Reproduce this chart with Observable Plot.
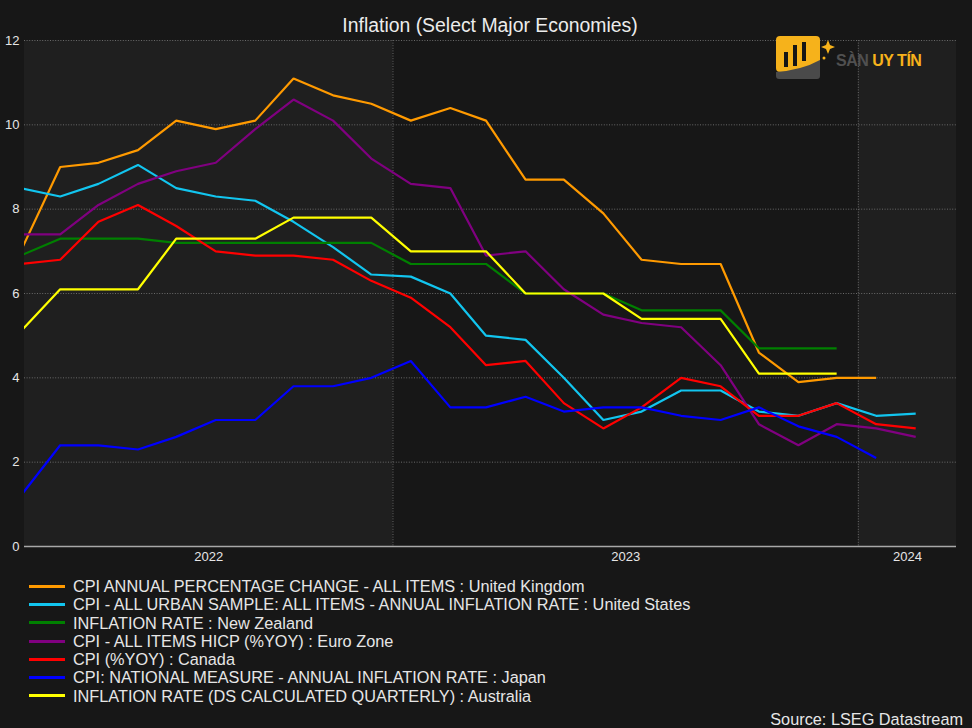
<!DOCTYPE html>
<html>
<head>
<meta charset="utf-8">
<script src="https://cdn.jsdelivr.net/npm/d3@7"></script>
<script src="https://cdn.jsdelivr.net/npm/@observablehq/plot@0.6"></script>
<style>
html,body{margin:0;padding:0;background:#171717;}
#root{position:relative;width:972px;height:728px;overflow:hidden;font-family:"Liberation Sans",Arial,sans-serif;color:#e6e6e6;}
#title{height:30px;line-height:50px;font-size:19.4px;text-align:center;padding:0 16px 0 24px;white-space:nowrap;color:#ececec;}
#chart svg{display:block;}
.row{height:18.3px;line-height:18.3px;font-size:16.3px;display:flex;align-items:center;white-space:nowrap;}
.sw{width:36px;height:3px;margin-left:29px;margin-right:8px;flex:none;}
#source{margin-top:5px;height:18.3px;line-height:18.3px;font-size:16.3px;text-align:right;padding-right:9px;}
#logo{position:absolute;left:772px;top:32px;}
</style>
</head>
<body>
<div id="root">
  <div id="title">Inflation (Select Major Economies)</div>
  <div id="chart"></div>
  <div id="legend"></div>
  <div id="source">Source: LSEG Datastream</div>
  <div id="logo">
    <svg width="160" height="52" viewBox="0 0 160 52">
      <rect x="4" y="4" width="44" height="36" rx="4" fill="#f6b21b"/>
      <path d="M4,40 Q30,38 48,28 L48,44 Q48,47 45,47 L7,47 Q4,47 4,44 Z" fill="#4a4a4a"/>
      <rect x="12" y="20" width="4" height="15" fill="#151515"/>
      <rect x="21" y="13" width="4" height="21" fill="#151515"/>
      <rect x="30" y="10" width="4" height="19" fill="#151515"/>
      <path d="M56,8 L58,13 L63,15 L58,17 L56,22 L54,17 L49,15 L54,13 Z" fill="#f6b21b"/>
      <circle cx="52" cy="26" r="1.5" fill="#f6b21b"/>
      <text x="64" y="34" font-family="Liberation Sans, Arial, sans-serif" font-weight="bold" font-size="16" letter-spacing="-0.5"><tspan fill="#505050">SÀN </tspan><tspan fill="#f6b21b">UY TÍN</tspan></text>
    </svg>
  </div>
</div>
<script>
// ---- data ----
const months = ["2022-03","2022-04","2022-05","2022-06","2022-07","2022-08","2022-09","2022-10","2022-11","2022-12",
                "2023-01","2023-02","2023-03","2023-04","2023-05","2023-06","2023-07","2023-08","2023-09","2023-10","2023-11","2023-12",
                "2024-01","2024-02"];

const seriesNames = [
  "CPI ANNUAL PERCENTAGE CHANGE - ALL ITEMS : United Kingdom",
  "CPI - ALL URBAN SAMPLE: ALL ITEMS - ANNUAL INFLATION RATE : United States",
  "INFLATION RATE : New Zealand",
  "CPI - ALL ITEMS HICP (%YOY) : Euro Zone",
  "CPI (%YOY) : Canada",
  "CPI: NATIONAL MEASURE - ANNUAL INFLATION RATE : Japan",
  "INFLATION RATE (DS CALCULATED QUARTERLY) : Australia"
];

const ukValues = [7.0, 9.0, 9.1, 9.4, 10.1, 9.9, 10.1, 11.1, 10.7, 10.5, 10.1, 10.4, 10.1, 8.7, 8.7, 7.9, 6.8, 6.7, 6.7, 4.6, 3.9, 4.0, 4.0];
const usValues = [8.5, 8.3, 8.6, 9.05, 8.5, 8.3, 8.2, 7.7, 7.1, 6.45, 6.4, 6.0, 5.0, 4.9, 4.0, 3.0, 3.2, 3.7, 3.7, 3.2, 3.1, 3.4, 3.1, 3.15];
const nzValues = [6.9, 7.3, 7.3, 7.3, 7.2, 7.2, 7.2, 7.2, 7.2, 7.2, 6.7, 6.7, 6.7, 6.0, 6.0, 6.0, 5.6, 5.6, 5.6, 4.7, 4.7, 4.7];
const ezValues = [7.4, 7.4, 8.1, 8.6, 8.9, 9.1, 9.9, 10.6, 10.1, 9.2, 8.6, 8.5, 6.9, 7.0, 6.1, 5.5, 5.3, 5.2, 4.3, 2.9, 2.4, 2.9, 2.8, 2.6];
const caValues = [6.7, 6.8, 7.7, 8.1, 7.6, 7.0, 6.9, 6.9, 6.8, 6.3, 5.9, 5.2, 4.3, 4.4, 3.4, 2.8, 3.3, 4.0, 3.8, 3.1, 3.1, 3.4, 2.9, 2.8];
const jpValues = [1.2, 2.4, 2.4, 2.3, 2.6, 3.0, 3.0, 3.8, 3.8, 4.0, 4.4, 3.3, 3.3, 3.55, 3.2, 3.3, 3.3, 3.1, 3.0, 3.3, 2.85, 2.6, 2.1];
const auValues = [5.1, 6.1, 6.1, 6.1, 7.3, 7.3, 7.3, 7.8, 7.8, 7.8, 7.0, 7.0, 7.0, 6.0, 6.0, 6.0, 5.4, 5.4, 5.4, 4.1, 4.1, 4.1];

const yTicks = [0, 2, 4, 6, 8, 10, 12];
const years = [2022, 2023, 2024];
const xStart = "2022-03-18";
const xEnd = "2024-03-18";

// ---- styles ----
const seriesColors = ["#ff9a00", "#12c5ef", "#008000", "#800080", "#ff0000", "#0000ff", "#ffff00"];

// ---- build ----
const allValues = [ukValues, usValues, nzValues, ezValues, caValues, jpValues, auValues];
const toDate = m => new Date(m + "-15T00:00:00Z");
const rows = allValues.flatMap((vals, si) =>
  vals.map((v, i) => ({series: seriesNames[si], date: toDate(months[i]), value: v})));

const xDomain = [new Date(xStart + "T00:00:00Z"), new Date(xEnd + "T00:00:00Z")];
const yearStart = y => new Date(Date.UTC(y, 0, 1));
const yearMids = years.map(y => {
  const a = Math.max(+yearStart(y), +xDomain[0]);
  const b = Math.min(+yearStart(y + 1), +xDomain[1]);
  return new Date((a + b) / 2);
});
const yearBounds = years.map(yearStart).filter(d => d > xDomain[0] && d < xDomain[1]);

const gridStyle = {stroke: "#6a6a6a", strokeOpacity: 1, strokeDasharray: "1,1.6", strokeWidth: 1};

const chart = Plot.plot({
  width: 972,
  height: 547,
  marginLeft: 24,
  marginRight: 16,
  marginTop: 10,
  marginBottom: 31,
  style: {background: "transparent", color: "#e6e6e6", fontFamily: "Liberation Sans, Arial, sans-serif", fontSize: "13px", overflow: "visible"},
  x: {type: "utc", domain: xDomain},
  y: {domain: [0, 12]},
  color: {domain: seriesNames, range: seriesColors},
  marks: [
    Plot.rect(years.filter(y => y % 2 === 0), {x1: y => yearStart(y), x2: y => yearStart(y + 1), fill: "#1f1f1f", clip: true}),
    Plot.rect(years.filter(y => y % 2 === 1), {x1: y => yearStart(y), x2: y => yearStart(y + 1), fill: "#171717", clip: true}),
    Plot.gridY({ticks: yTicks.filter(t => t > 0), ...gridStyle}),
    Plot.gridX({ticks: yearBounds, ...gridStyle}),
    Plot.ruleY([0], {stroke: "#a8a8a8", strokeWidth: 1.5}),
    Plot.axisY({ticks: yTicks, tickSize: 0, tickPadding: 5, label: null, fontSize: 13}),
    Plot.axisX({ticks: yearMids, tickFormat: d => String(years[yearMids.indexOf(d)]), tickSize: 0, tickPadding: 5, label: null, fontSize: 13}),
    Plot.line(rows, {x: "date", y: "value", z: "series", stroke: "series", strokeWidth: 2.2, strokeLinejoin: "miter", strokeLinecap: "butt", clip: true})
  ]
});
document.getElementById("chart").appendChild(chart);

const legend = document.getElementById("legend");
seriesNames.forEach((name, i) => {
  const row = document.createElement("div");
  row.className = "row";
  const sw = document.createElement("span");
  sw.className = "sw";
  sw.style.background = seriesColors[i];
  const tx = document.createElement("span");
  tx.textContent = name;
  row.appendChild(sw);
  row.appendChild(tx);
  legend.appendChild(row);
});
</script>
</body>
</html>
